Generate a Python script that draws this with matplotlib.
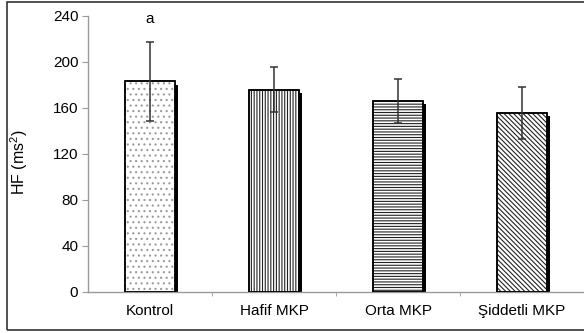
import matplotlib.pyplot as plt
import matplotlib.patheffects as pe
from matplotlib.patches import Rectangle

plt.rcParams["font.family"] = ["Liberation Sans", "DejaVu Sans"]
plt.rcParams["mathtext.fontset"] = "custom"
plt.rcParams["mathtext.rm"] = "Liberation Sans"
plt.rcParams["hatch.linewidth"] = 0.8

# data
groups = ["Kontrol", "Hafif MKP", "Orta MKP", "Şiddetli MKP"]
hf_mean = [183, 176, 166, 155.5]
hf_sd = [34, 20, 19, 23]
hatches = ["...", "|" * 6, "-" * 6, "\\" * 7]
hatch_colors = ["#9a9a9a", "#222222", "#222222", "#222222"]
y_ticks = [0, 40, 80, 120, 160, 200, 240]

fig = plt.figure(figsize=(5.84, 3.33), dpi=100)
ax = fig.add_axes([0.1507, 0.124, 0.8493, 0.828])

x = list(range(len(groups)))
width = 0.40

# shadow + white fill
ax.bar(x, hf_mean, width=width, color="white", edgecolor="black", linewidth=1.1,
       zorder=2,
       path_effects=[pe.SimplePatchShadow(offset=(2.4, -2.2), shadow_rgbFace="black",
                                          alpha=1.0), pe.Normal()])
# hatching
for xi, h, hp, hc in zip(x, hf_mean, hatches, hatch_colors):
    ax.bar(xi, h, width=width, color="none", edgecolor=hc, linewidth=0,
           hatch=hp, zorder=3)
# outline
ax.bar(x, hf_mean, width=width, color="none", edgecolor="black", linewidth=1.1,
       zorder=4)

ax.errorbar(x, hf_mean, yerr=hf_sd, fmt="none", ecolor="#333333",
            elinewidth=1.1, capsize=3, capthick=1.1, zorder=5)

ax.text(0, 237, "a", ha="center", va="center", fontsize=11)

ax.set_xlim(-0.5, len(groups) - 0.5)
ax.set_ylim(0, 240)
ax.set_yticks(y_ticks)
ax.set_xticks(x)
ax.set_xticklabels(groups, fontsize=11)
ax.set_xticks([0.5, 1.5, 2.5], minor=True)
ax.tick_params(axis="x", which="major", length=0, pad=9)
ax.tick_params(axis="x", which="minor", length=3, color="#999999", direction="out")
ax.tick_params(axis="y", length=4, color="#999999", labelsize=11, pad=3)
ax.set_ylabel(r"HF (ms$^{\mathrm{2}}$)", fontsize=11.5)
ax.yaxis.set_label_coords(-0.116, 0.47)

for s in ["top", "right"]:
    ax.spines[s].set_visible(False)
for s in ["left", "bottom"]:
    ax.spines[s].set_color("#999999")
    ax.spines[s].set_linewidth(1.0)

# outer frame
fig.patches.append(Rectangle((0.012, 0.009), 1.1, 0.985, transform=fig.transFigure,
                             fill=False, edgecolor="#333333", linewidth=1.2))

fig.savefig("out.png", dpi=100)
